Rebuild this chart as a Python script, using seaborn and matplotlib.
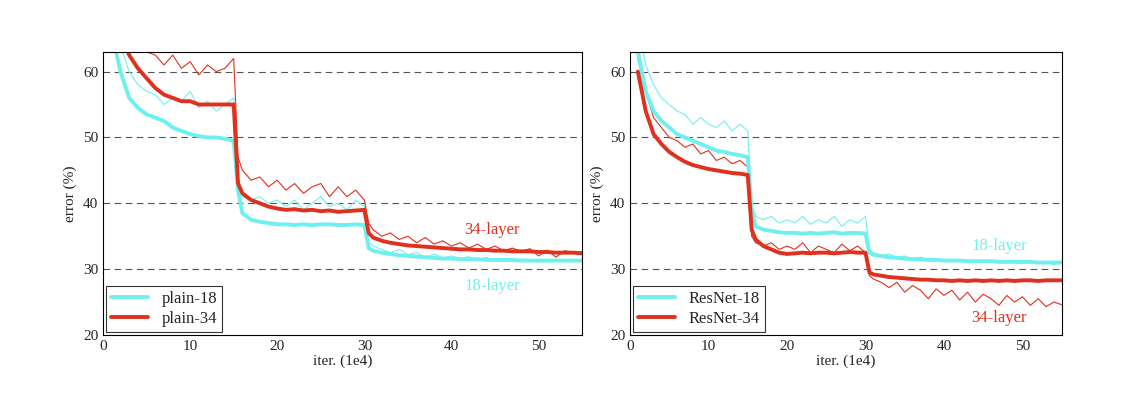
import numpy as np
import pandas as pd
import matplotlib
matplotlib.use("Agg")
import matplotlib.pyplot as plt
import seaborn as sns

iters = [1,2,3,4,5,6,7,8,9,10,11,12,13,14,15,15.5,16,17,18,19,20,21,22,23,24,25,26,27,28,29,30,30.5,
         31,32,33,34,35,36,37,38,39,40,41,42,43,44,45,46,47,48,49,50,51,52,53,54,55]

plain18_test = [66,60,56,54.5,53.5,53,52.5,51.5,51,50.5,50.2,50,50,49.8,49.5,42,38.5,37.5,37.2,37,36.8,
                36.8,36.7,36.8,36.7,36.8,36.8,36.7,36.7,36.8,36.7,33.2,32.8,32.5,32.3,32.1,32,31.9,31.8,31.7,31.6,31.6,
                31.5,31.5,31.5,31.4,31.4,31.4,31.4,31.3,31.3,31.3,31.3,31.3,31.3,31.3,31.3]
plain34_test = [72,66,62.5,60.5,59,57.5,56.5,56,55.5,55.5,55,55,55,55,55,43,41.5,40.5,40,39.5,39.2,
                39,39.1,38.9,39,38.8,38.9,38.7,38.8,38.9,39,35.5,34.8,34.3,34,33.8,33.6,33.5,33.4,33.3,33.2,33.1,
                33,33,32.9,32.9,32.8,32.8,32.7,32.7,32.7,32.6,32.6,32.5,32.5,32.5,32.4]
plain18_train = [70,64,60,58,57,56.5,55,56,55.5,57,54.5,55.5,54,55,56,44,41,40.5,41,40,40.5,
                 39.5,40.5,39,40,41,39.5,40,39,40.5,39.5,34,33.5,33,32.5,33,32.2,32.5,31.8,32.3,31.7,32,
                 31.6,31.9,31.4,31.8,31.3,31.6,31.2,31.5,31.4,31.1,31.5,31.2,31.4,31.1,31.3]
plain34_train = [75,70,66,64,63,62.5,61,62.5,60.5,61.5,59.5,61,60,60.5,62,47,45,43.5,44,42.5,43.5,
                 42,43,41.5,42.5,43,41,42.5,41,42,40.5,37,36,35,35.5,34.5,35,34,34.8,33.8,34.3,33.5,
                 34,33.2,33.8,33,33.5,32.8,33.2,32.7,33.1,32,32.9,31.8,32.8,32.5,32.6]

res18_test = [63,57,54,52.5,51.5,50.5,50,49.5,49,48.5,48,47.8,47.5,47.3,47,39,36.5,36,35.8,35.6,35.5,
              35.5,35.4,35.5,35.4,35.5,35.6,35.4,35.5,35.5,35.4,32.5,32.2,32,31.8,31.7,31.6,31.5,31.5,31.4,31.4,31.3,
              31.3,31.3,31.2,31.2,31.2,31.2,31.1,31.1,31.1,31.1,31.1,31,31,31,31]
res34_test = [60,54,50.5,49,47.8,47,46.3,45.8,45.5,45.2,45,44.8,44.6,44.5,44.3,36,34.5,33.5,33,32.5,32.3,
              32.4,32.5,32.4,32.5,32.5,32.4,32.5,32.6,32.5,32.5,29.5,29.2,29,28.8,28.7,28.6,28.5,28.4,28.4,28.3,28.3,
              28.2,28.3,28.2,28.3,28.2,28.3,28.2,28.3,28.2,28.3,28.3,28.2,28.3,28.3,28.3]
res18_train = [67,61,58,56,55,54,53.5,52,53,52,51.5,52.5,51,52,51,40,38,37.5,38,37,37.5,
               37,38,36.8,37.5,37,38,36.5,37.5,37,38,33,32.5,32,32.3,31.8,32,31.5,31.8,31.3,31.6,31.2,
               31.5,31.1,31.4,31,31.3,31,31.2,30.9,31.2,30.8,31.1,30.8,31,30.7,31]
res34_train = [62,57,53,51.5,50,49.5,48.5,49,47.5,48,46.5,47,46,46.5,45.5,35,34,33.5,34,33,33.5,
               33,34,32.5,33.5,33,32.5,33.8,32.8,33.5,32.5,29,28.5,28,27.2,28,26.5,27.5,26.8,25.5,27,26,
               26.8,25.3,26.5,25,26.2,25.5,24.5,26,25,25.8,24.5,25.5,24.3,25,24.6]

CYAN = "#6ff0f0"
RED = "#e0301e"

sns.set_style("white")
plt.rcParams['font.family'] = ['Liberation Serif', 'DejaVu Serif']

fig = plt.figure(figsize=(11.36, 4.08), dpi=100)
ax1 = fig.add_axes([0.0907, 0.179, 0.4217, 0.694])
ax2 = fig.add_axes([0.5546, 0.179, 0.380, 0.694])

panels = [
    (ax1, plain18_train, plain34_train, plain18_test, plain34_test, "plain-18", "plain-34",
     [(41.5, 35.3, "34-layer", RED), (41.5, 26.8, "18-layer", CYAN)]),
    (ax2, res18_train, res34_train, res18_test, res34_test, "ResNet-18", "ResNet-34",
     [(43.5, 32.9, "18-layer", CYAN), (43.5, 22.0, "34-layer", RED)]),
]

for ax, tr18, tr34, te18, te34, n18, n34, notes in panels:
    for y in [30, 40, 50, 60]:
        ax.axhline(y, color="#555555", ls=(0, (6, 4)), lw=0.8, zorder=0)
    sns.lineplot(x=iters, y=tr18, ax=ax, color=CYAN, lw=0.8, sort=False)
    sns.lineplot(x=iters, y=tr34, ax=ax, color=RED, lw=0.8, sort=False)
    sns.lineplot(x=iters, y=te18, ax=ax, color=CYAN, lw=2.8, sort=False, label=n18)
    sns.lineplot(x=iters, y=te34, ax=ax, color=RED, lw=2.8, sort=False, label=n34)
    for x, y, t, c in notes:
        ax.text(x, y, t, color=c, fontsize=12)
    ax.set_xlim(0, 55)
    ax.set_ylim(20, 63)
    ax.set_xticks([0, 10, 20, 30, 40, 50])
    ax.set_yticks([20, 30, 40, 50, 60])
    ax.set_xlabel("iter. (1e4)", fontsize=11, labelpad=1)
    ax.set_ylabel("error (%)", fontsize=11)
    ax.tick_params(labelsize=11, direction="in", length=3)
    for s in ax.spines.values():
        s.set_color("black")
        s.set_linewidth(0.8)
    leg = ax.legend(loc="lower left", fontsize=12, frameon=True, fancybox=False,
                    borderaxespad=0.2, handlelength=2.2, borderpad=0.3, labelspacing=0.2)
    leg.get_frame().set_edgecolor("black")
    leg.get_frame().set_linewidth(0.8)

fig.savefig("out.png", dpi=100)
